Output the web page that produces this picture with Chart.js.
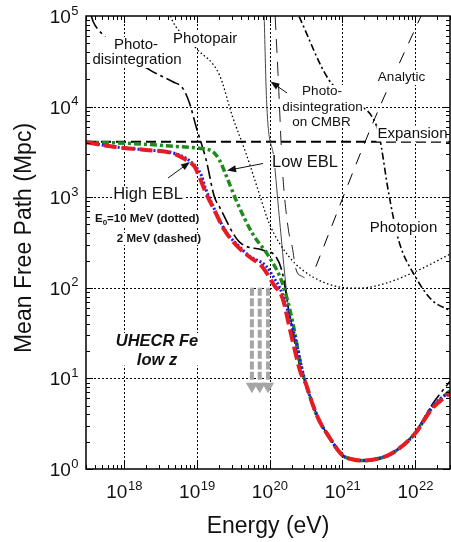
<!DOCTYPE html>
<html>
<head>
<meta charset="utf-8">
<script src="https://cdn.jsdelivr.net/npm/chart.js@4.4.1/dist/chart.umd.min.js"></script>
<style>
  html, body { margin: 0; padding: 0; background: #fff; }
</style>
</head>
<body>
<canvas id="chart" width="451" height="542"></canvas>
<script>
// axis decades (tick labels are 10^n)
const xTickExps = [18, 19, 20, 21, 22];
const yTickExps = [0, 1, 2, 3, 4, 5];

// High EBL, E0 = 2 MeV (red dashed)
const energyHighRed = [3.0e17, 7.1e17, 2.0e18, 4.7e18, 7.1e18, 9.3e18, 1.08e19, 1.34e19, 1.65e19, 2.39e19, 3.45e19, 5.25e19, 7.9e19, 1.15e20, 1.5e20, 1.95e20, 2.67e20, 3.13e20, 3.85e20, 4.75e20, 6.5e20, 9.9e20, 1.36e21, 1.86e21, 2.84e21, 4.8e21, 1.0e22, 1.69e22, 3.0e22];
const mfpHighRed = [4040, 3610, 3320, 3050, 2580, 2170, 1680, 1100, 785, 435, 297, 220, 171, 107, 77, 31.6, 11.5, 8.8, 5.3, 3.48, 2.28, 1.43, 1.28, 1.24, 1.28, 1.49, 2.48, 4.6, 6.9];

// High EBL, E0 = 10 MeV (blue dotted)
const energyHighBlue = [3.0e17, 7.1e17, 2.0e18, 4.7e18, 7.4e18, 9.8e18, 1.15e19, 1.31e19, 1.62e19, 2.04e19, 2.6e19, 3.84e19, 5.25e19, 8.9e19, 1.15e20, 1.42e20, 2.16e20, 2.96e20, 3.85e20, 4.75e20, 6.5e20, 9.9e20, 1.36e21, 1.86e21, 2.84e21, 4.8e21, 1.0e22, 1.69e22, 3.0e22];
const mfpHighBlue = [4040, 3610, 3320, 3080, 2630, 2150, 1750, 1260, 841, 562, 400, 284, 225, 174, 128, 94.6, 31.6, 10.4, 5.3, 3.48, 2.28, 1.43, 1.28, 1.24, 1.28, 1.49, 2.48, 4.8, 7.3];

// Low EBL (green dash-dot)
const energyLow = [3.0e17, 1.07e18, 5.75e18, 1.08e19, 1.65e19, 2.04e19, 2.51e19, 3.45e19, 5.8e19, 9.8e19, 1.5e20, 2.04e20, 2.82e20, 3.13e20, 3.85e20, 4.75e20, 6.5e20, 9.9e20, 1.36e21, 1.86e21, 2.84e21, 4.8e21, 1.0e22, 1.69e22, 3.0e22];
const mfpLow = [4040, 3940, 3610, 3470, 3180, 2570, 1760, 933, 398, 220, 112, 44.2, 11.5, 8.8, 5.3, 3.48, 2.28, 1.43, 1.28, 1.24, 1.28, 1.49, 2.48, 4.7, 7.3];

// Photodisintegration (black long dash-dot)
const energyPhotodis = [3.55e17, 3.77e17, 4.9e17, 2.25e18, 4.68e18, 6.41e18, 7.93e18, 9.77e18, 1.34e19, 1.74e19, 2.04e19, 3.8e19, 7.94e19, 1.22e20, 1.5e20, 1.85e20, 2.67e20, 3.13e20, 3.85e20, 4.75e20, 6.5e20, 9.9e20, 1.36e21, 1.86e21, 2.84e21, 4.8e21, 1.0e22, 1.69e22, 3.0e22];
const mfpPhotodis = [1e5, 86500, 64400, 25400, 18800, 15900, 10900, 6000, 2580, 1010, 785, 323, 261, 220, 145, 52.7, 12.5, 9.0, 5.4, 3.5, 2.3, 1.44, 1.29, 1.25, 1.29, 1.5, 2.55, 5.1, 9.3];

// Photopair (black dotted)
const energyPhotopair = [4.35e18, 4.68e18, 9.77e18, 2.04e19, 3.09e19, 4.73e19, 7.18e19, 9.84e19, 1.85e20, 3.85e20, 9.9e20, 1.67e21, 3.89e21, 1.11e22, 3.0e22];
const mfpPhotopair = [1e5, 86500, 44000, 22400, 7740, 3050, 1100, 515, 220, 133, 101, 98.9, 112, 157, 235];

// Photopion (black dash-dot)
const energyPhotopion = [2.54e20, 6.52e20, 1.86e21, 2.55e21, 3.15e21, 4.32e21, 5.89e21, 1.0e22, 1.69e22, 3.0e22];
const mfpPhotopion = [98200, 19700, 10000, 7740, 5070, 1100, 337, 133, 73.3, 56];

// Analytic (thin long dash)
const energyAnalytic = [4.3e20, 2.8e21, 1.2e22];
const mfpAnalytic = [171, 7500, 1.0e5];

// Photodisintegration on CMBR (thin solid and thin long dash)
const energyCmbSolid = [8.4e19, 9.1e19, 1.15e20, 1.35e20, 1.81e20, 2.16e20, 2.67e20];
const mfpCmbSolid = [1e5, 10900, 2580, 630, 61.7, 31.6, 11.5];
const energyCmbDashed = [1.19e20, 1.31e20, 1.5e20, 1.81e20, 2.04e20, 2.28e20, 2.81e20, 3.47e20];
const mfpCmbDashed = [1e5, 21000, 2000, 435, 284, 164, 133, 127];

// Expansion (c/H0)
const energyExpansion = [3.0e17, 3.0e22];
const mfpExpansion = [4100, 4100];

// UHECR Fe low z upper limits (gray arrows)
const arrowEnergies = [5.7e19, 7.3e19, 9.5e19];
const arrowTop = 100;
const arrowBottom = 9.4;
const arrowHead = 8.2;

function pts(xs, ys) {
    return xs.map((x, i) => ({ x: x, y: ys[i] }));
}

function curve(data, color, width, dash, order) {
    return {
        data: data,
        showLine: true,
        borderColor: color,
        borderWidth: width,
        borderDash: dash,
        pointRadius: 0,
        fill: false,
        cubicInterpolationMode: 'monotone',
        order: order
    };
}

const datasets = [
    curve(pts(energyHighRed, mfpHighRed), '#e51c23', 4, [13, 5], 1),
    curve(pts(energyHighBlue, mfpHighBlue), '#1a1aee', 3, [2, 2], 2),
    curve(pts(energyLow, mfpLow), '#1f8b1f', 3.5, [7, 3, 3, 3], 3),
    curve(pts(energyPhotodis, mfpPhotodis), '#000', 1.6, [14, 4, 3, 4], 4),
    curve(pts(energyPhotopair, mfpPhotopair), '#000', 1.3, [1.5, 2.5], 5),
    curve(pts(energyPhotopion, mfpPhotopion), '#000', 1.6, [7, 3, 2, 3], 5),
    curve(pts(energyAnalytic, mfpAnalytic), '#000', 1, [12, 10], 5),
    curve(pts(energyCmbSolid, mfpCmbSolid), '#444', 1, [], 5),
    curve(pts(energyCmbDashed, mfpCmbDashed), '#222', 1, [14, 9], 5),
    curve(pts(energyExpansion, mfpExpansion), '#000', 2, [10, 5], 5)
];

// gray arrow shafts
arrowEnergies.forEach(e => {
    datasets.push(curve(pts([e, e], [arrowTop, arrowBottom]), '#a5a5a5', 4, [8, 2.5], 6));
});
// arrow heads
datasets.push({
    data: arrowEnergies.map(e => ({ x: e, y: arrowHead })),
    showLine: false,
    pointStyle: 'triangle',
    rotation: 180,
    pointRadius: 7,
    backgroundColor: '#a5a5a5',
    borderWidth: 0,
    order: 6
});

// text block with white background (lines: [text, cx, baseline])
function textBlock(ctx, font, lines, align) {
    ctx.font = font;
    ctx.textAlign = align || 'center';
    ctx.textBaseline = 'alphabetic';
    let l = Infinity, r = -Infinity, t = Infinity, b = -Infinity;
    lines.forEach(([s, x, y]) => {
        const m = ctx.measureText(s);
        const left = ctx.textAlign === 'left' ? x : x - m.width / 2;
        l = Math.min(l, left);
        r = Math.max(r, left + m.width);
        t = Math.min(t, y - m.actualBoundingBoxAscent);
        b = Math.max(b, y + m.actualBoundingBoxDescent);
    });
    ctx.fillStyle = '#fff';
    ctx.fillRect(l - 1, t - 1, r - l + 2, b - t + 2);
    ctx.fillStyle = '#111';
    lines.forEach(([s, x, y]) => ctx.fillText(s, x, y));
}

function arrow(ctx, x1, y1, x2, y2) {
    const ang = Math.atan2(y2 - y1, x2 - x1);
    ctx.strokeStyle = '#111';
    ctx.fillStyle = '#111';
    ctx.lineWidth = 1;
    ctx.setLineDash([]);
    ctx.beginPath();
    ctx.moveTo(x1, y1);
    ctx.lineTo(x2 - 5 * Math.cos(ang), y2 - 5 * Math.sin(ang));
    ctx.stroke();
    ctx.beginPath();
    ctx.moveTo(x2, y2);
    ctx.lineTo(x2 - 9 * Math.cos(ang) + 3.5 * Math.sin(ang), y2 - 9 * Math.sin(ang) - 3.5 * Math.cos(ang));
    ctx.lineTo(x2 - 9 * Math.cos(ang) - 3.5 * Math.sin(ang), y2 - 9 * Math.sin(ang) + 3.5 * Math.cos(ang));
    ctx.closePath();
    ctx.fill();
}

function powLabel(ctx, exp, x, y, align) {
    const baseFont = '19px Arial, "Liberation Sans", sans-serif';
    const expFont = '13px Arial, "Liberation Sans", sans-serif';
    ctx.font = baseFont;
    const wb = ctx.measureText('10').width;
    ctx.font = expFont;
    const we = ctx.measureText(String(exp)).width;
    const w = wb + we;
    const left = align === 'right' ? x - w : x - w / 2;
    ctx.textAlign = 'left';
    ctx.textBaseline = 'alphabetic';
    ctx.fillStyle = '#111';
    ctx.font = baseFont;
    ctx.fillText('10', left, y);
    ctx.font = expFont;
    ctx.fillText(String(exp), left + wb + 0.5, y - 8.5);
}

const axesPlugin = {
    id: 'axesPlugin',
    beforeDatasetsDraw(chart) {
        const { ctx, chartArea: a, scales: { x, y } } = chart;
        ctx.save();
        ctx.strokeStyle = '#000';
        ctx.lineWidth = 1;
        ctx.setLineDash([2, 2]);
        xTickExps.forEach(p => {
            const px = Math.round(x.getPixelForValue(Math.pow(10, p))) + 0.5;
            ctx.beginPath(); ctx.moveTo(px, a.top); ctx.lineTo(px, a.bottom); ctx.stroke();
        });
        yTickExps.forEach(p => {
            const py = Math.round(y.getPixelForValue(Math.pow(10, p))) + 0.5;
            if (py < a.top + 2 || py > a.bottom - 2) return;
            ctx.beginPath(); ctx.moveTo(a.left, py); ctx.lineTo(a.right, py); ctx.stroke();
        });
        ctx.restore();
    },
    afterDatasetsDraw(chart) {
        const { ctx } = chart;
        ctx.save();
        const f15 = '15px Arial, "Liberation Sans", sans-serif';
        const f13 = '13.5px Arial, "Liberation Sans", sans-serif';
        const f16 = '16.5px Arial, "Liberation Sans", sans-serif';
        textBlock(ctx, f15, [['Photo-', 136, 49], ['disintegration', 137, 64]]);
        textBlock(ctx, f15, [['Photopair', 173, 43]], 'left');
        textBlock(ctx, f13, [['Analytic', 401.5, 81]]);
        textBlock(ctx, f13, [['Photo-', 322, 95], ['disintegration', 322.5, 110.5], ['on CMBR', 321.5, 126]]);
        textBlock(ctx, f15, [['Expansion', 412.5, 137.5]]);
        textBlock(ctx, f16, [['Low EBL', 305, 167]]);
        textBlock(ctx, f16, [['High EBL', 148, 199]]);
        textBlock(ctx, f15, [['Photopion', 403.5, 231.5]]);

        // E0 = 10 MeV (dotted) / 2 MeV (dashed)
        const fb = 'bold 11.5px Arial, "Liberation Sans", sans-serif';
        const fbs = 'bold 8px Arial, "Liberation Sans", sans-serif';
        ctx.font = fb;
        const w1 = ctx.measureText('E').width;
        const w3 = ctx.measureText('=10 MeV (dotted)').width;
        ctx.font = fbs;
        const w2 = ctx.measureText('0').width;
        const x0 = 95, yb = 222;
        ctx.fillStyle = '#fff';
        ctx.fillRect(x0 - 1, yb - 10, w1 + w2 + w3 + 2, 14);
        ctx.fillStyle = '#111';
        ctx.textAlign = 'left';
        ctx.textBaseline = 'alphabetic';
        ctx.font = fb; ctx.fillText('E', x0, yb);
        ctx.font = fbs; ctx.fillText('0', x0 + w1, yb + 3);
        ctx.font = fb; ctx.fillText('=10 MeV (dotted)', x0 + w1 + w2, yb);
        textBlock(ctx, fb, [['2 MeV (dashed)', 159, 242]]);

        const fbi = 'italic bold 16.5px Arial, "Liberation Sans", sans-serif';
        textBlock(ctx, fbi, [['UHECR Fe', 157, 346], ['low z', 157, 364.5]]);

        arrow(ctx, 168, 178, 190, 162);
        arrow(ctx, 263, 163.5, 227, 170.5);
        arrow(ctx, 287, 93, 270.5, 81.5);
        ctx.restore();
    },
    afterDraw(chart) {
        const { ctx, chartArea: a, scales: { x, y } } = chart;
        ctx.save();
        ctx.strokeStyle = '#000';
        ctx.setLineDash([]);
        ctx.lineWidth = 1;
        // minor / major ticks, inward on all sides
        for (let d = 17; d <= 22; d++) {
            for (let m = 1; m <= 9; m++) {
                const v = m * Math.pow(10, d);
                if (v < 3e17 || v > 3e22) continue;
                const px = Math.round(x.getPixelForValue(v)) + 0.5;
                const len = m === 1 ? 7 : 4;
                ctx.beginPath();
                ctx.moveTo(px, a.bottom); ctx.lineTo(px, a.bottom - len);
                ctx.moveTo(px, a.top); ctx.lineTo(px, a.top + len);
                ctx.stroke();
            }
        }
        for (let d = 0; d <= 4; d++) {
            for (let m = 1; m <= 9; m++) {
                const v = m * Math.pow(10, d);
                const py = Math.round(y.getPixelForValue(v)) + 0.5;
                const len = m === 1 ? 7 : 4;
                ctx.beginPath();
                ctx.moveTo(a.left, py); ctx.lineTo(a.left + len, py);
                ctx.moveTo(a.right, py); ctx.lineTo(a.right - len, py);
                ctx.stroke();
            }
        }
        // frame
        ctx.lineWidth = 1.5;
        ctx.strokeRect(a.left, a.top, a.right - a.left, a.bottom - a.top);

        // tick labels
        xTickExps.forEach(p => {
            powLabel(ctx, p, x.getPixelForValue(Math.pow(10, p)), 498, 'center');
        });
        yTickExps.forEach(p => {
            powLabel(ctx, p, 78, y.getPixelForValue(Math.pow(10, p)) + 7, 'right');
        });

        // axis titles
        ctx.fillStyle = '#111';
        ctx.font = '23px Arial, "Liberation Sans", sans-serif';
        ctx.textAlign = 'center';
        ctx.textBaseline = 'alphabetic';
        ctx.fillText('Energy (eV)', (a.left + a.right) / 2, 533);
        ctx.translate(31, 238);
        ctx.rotate(-Math.PI / 2);
        ctx.fillText('Mean Free Path (Mpc)', 0, 0);
        ctx.restore();
    }
};

new Chart(document.getElementById('chart'), {
    type: 'scatter',
    data: { datasets: datasets },
    options: {
        responsive: false,
        animation: false,
        devicePixelRatio: 1,
        layout: { autoPadding: false, padding: { top: 16, right: 1, left: 0, bottom: 0 } },
        plugins: { legend: { display: false }, tooltip: { enabled: false } },
        scales: {
            x: {
                type: 'logarithmic', min: 3e17, max: 3e22,
                grid: { display: false }, border: { display: false },
                ticks: { display: false },
                afterFit: s => { s.height = 73; }
            },
            y: {
                type: 'logarithmic', min: 1, max: 1e5,
                grid: { display: false }, border: { display: false },
                ticks: { display: false },
                afterFit: s => { s.width = 86; }
            }
        }
    },
    plugins: [axesPlugin]
});
</script>
</body>
</html>
